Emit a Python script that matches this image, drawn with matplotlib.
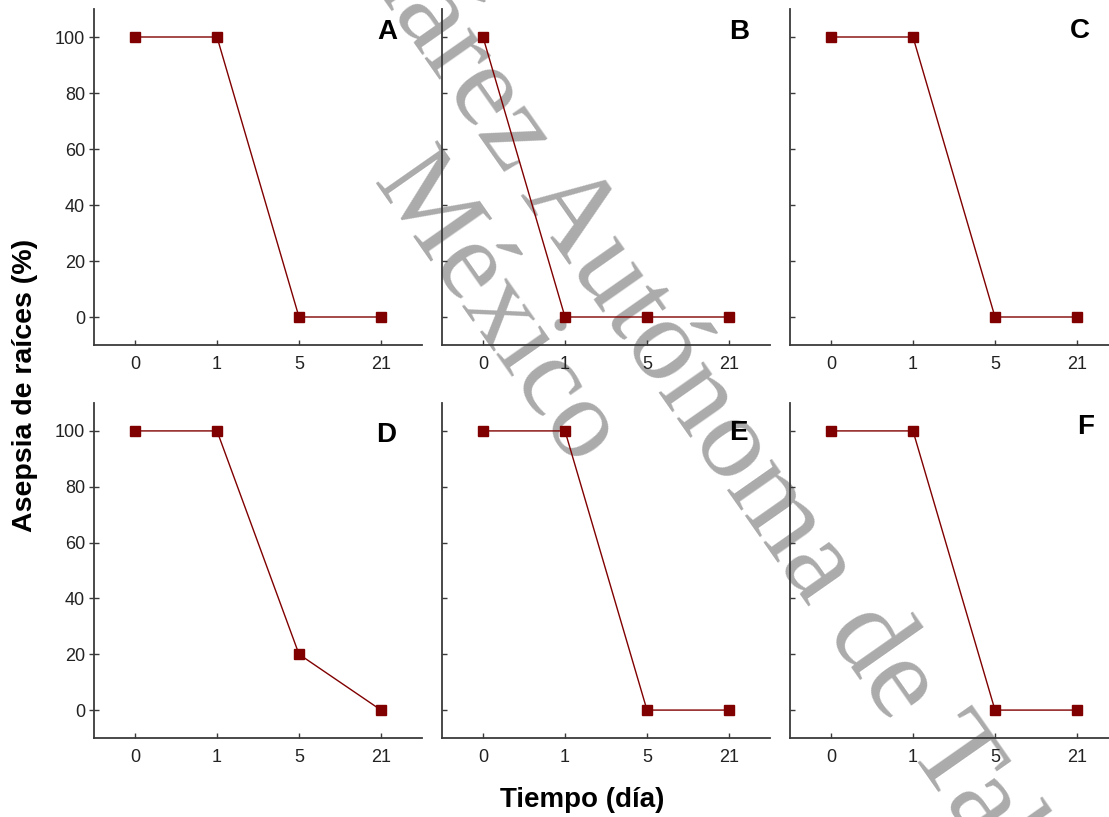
import matplotlib
matplotlib.use("Agg")
import matplotlib.pyplot as plt

plt.rcParams['font.family'] = ['Liberation Sans', 'DejaVu Sans']

# ---- data ----
dias = ["0", "1", "5", "21"]
paneles = ["A", "B", "C", "D", "E", "F"]
asepsia_A = [100, 100, 0, 0]
asepsia_B = [100, 0, 0, 0]
asepsia_C = [100, 100, 0, 0]
asepsia_D = [100, 100, 20, 0]
asepsia_E = [100, 100, 0, 0]
asepsia_F = [100, 100, 0, 0]
series = [asepsia_A, asepsia_B, asepsia_C, asepsia_D, asepsia_E, asepsia_F]
yticks = [0, 20, 40, 60, 80, 100]
marca_agua = ["Universidad Juárez Autónoma de Tabasco", "México"]

W, H = 1109, 817
fig = plt.figure(figsize=(W / 100, H / 100), dpi=100)

col_left = [94, 442, 790]
col_w = 328
row_top = [9, 403]
row_h = [336, 335]
letter_pos = [(0.893, 0.932), (0.905, 0.932), (0.884, 0.935),
              (0.890, 0.904), (0.905, 0.910), (0.900, 0.928)]

red = '#800000'
spine_c = '#3a3a3a'

# watermark (behind everything)
wm_anchor = [(554, 244), (472.5, 327)]
wm_size = [86, 83]
for txt, (px, py), fs in zip(marca_agua, wm_anchor, wm_size):
    fig.text(px / W, 1 - py / H, txt,
             family='Liberation Serif', fontsize=fs, color='#ababab',
             rotation=-55, rotation_mode='anchor', ha='center', va='baseline',
             zorder=-5)

for i, (vals, lab) in enumerate(zip(series, paneles)):
    r, c = divmod(i, 3)
    left = col_left[c] / W
    bottom = 1 - (row_top[r] + row_h[r]) / H
    ax = fig.add_axes([left, bottom, col_w / W, row_h[r] / H])
    ax.patch.set_alpha(0)
    x = list(range(len(dias)))
    ax.plot(x, vals, color=red, lw=1.0, marker='s', ms=7.5,
            mfc=red, mec=red, zorder=3)
    ax.set_xlim(-0.5, len(dias) - 0.5)
    ax.set_ylim(-10, 110)
    ax.set_xticks(x)
    ax.set_xticklabels(dias)
    ax.set_yticks(yticks)
    for s in ['top', 'right']:
        ax.spines[s].set_visible(False)
    for s in ['left', 'bottom']:
        ax.spines[s].set_color(spine_c)
        ax.spines[s].set_linewidth(1.3)
    ax.tick_params(axis='x', direction='in', length=3.5, width=1.0,
                   color=spine_c, pad=8, labelsize=13, labelcolor='#222222')
    if c == 0:
        ax.tick_params(axis='y', direction='inout', length=7, width=1.0,
                       color=spine_c, pad=3, labelsize=13, labelcolor='#222222')
    else:
        ax.tick_params(axis='y', direction='in', length=3.5, width=1.0,
                       color=spine_c, labelleft=False)
    lx, ly = letter_pos[i]
    ax.text(lx, ly, lab, transform=ax.transAxes, ha='center', va='center',
            fontsize=20, fontweight='bold', color='black')

fig.text(25 / W, 1 - 385 / H, "Asepsia de raíces (%)", rotation=90,
         ha='center', va='center', fontsize=20.5, fontweight='bold')
fig.text(582 / W, 1 - 800 / H, "Tiempo (día)", ha='center', va='center',
         fontsize=20, fontweight='bold')

fig.savefig("out.png", dpi=100)
